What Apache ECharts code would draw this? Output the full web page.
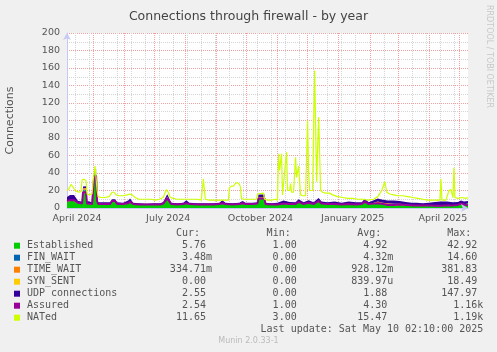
<!DOCTYPE html>
<html>
<head>
<meta charset="utf-8">
<script src="https://cdn.jsdelivr.net/npm/echarts@6/dist/echarts.min.js"></script>
<style>
  html, body { margin: 0; padding: 0; background: #f0f0f0; }
  #chart { width: 497px; height: 352px; }
</style>
</head>
<body>
<div id="chart"></div>
<script>
// days since 5 Apr 2024 (x axis runs 0..400 = 10 May 2025)
const stackDays = [0,3,7,11,15, 16,19,20,25,26, 27,29,30,31,37, 43,45,48,50,56, 61,63,66,72,79,
  86,93,96,100,104, 110,116,119,122,130, 138,146,152,155,158, 165,172,175,178,185, 190,191,197,198,204,
  210,216,222,228,231, 236,241,246,251,254, 260,267,274,281,288, 294,297,301,306,310, 315,320,326,332,338,
  344,349,355,361,367, 373,379,385,390,393, 396,400];

const established = [7,8,8,5,5, 20,20,5,4,6, 38,40,8,4,4, 4,8,8,4,4, 5,7,4,3.5,3.5,
  3.5,3.5,5,12,4, 3.5,4,5,4,3.5, 3.5,3.5,4,5,4, 3.5,4,5,4,4, 4.5,12,12,4,3.5,
  3.5,4.5,4,4,7, 4,6,4,8,5, 4,4,3.5,4,3.5, 4,7,4,5,6, 4,3,3,3.5,3,
  2.5,2.5,2.5,2.5,2, 2,2.5,2.5,3,5, 4,5.5];

const finWait = [0,0,0,0,0, 1,1,0,0,0, 1,1.5,0,0,0, 0,0,0,0,0, 0,0,0,0,0,
  0,0,0,0.3,0, 0,0,0,0,0, 0,0,0,0,0, 0,0,0,0,0, 0,0,0,0,0,
  0,0,0,0,0, 0,0,0,0,0, 0,0,0,0,0, 0,0,0,0,0, 0,0,0,0,0,
  0,0,0,0,0, 0,0,0,0,0, 0,0];

const timeWait = [0.5,1,1,0,0, 1.5,1.5,0,0,0, 0.5,0.5,0,0,0, 0,0,0,0,0, 0.5,1,0,0,0,
  0,0,0,0.5,0, 0,0,0,0,0, 0,0,0,0,0, 0,0,0,0,0, 0,0.5,0.5,0,0,
  0,0,0,0,0, 0,0,0,0.5,0, 0,0.5,0,0.5,0, 0,0.5,0,1,1.5, 2,2.5,2,1.5,1,
  0.5,0,0,0,0, 0,0,0,0,0, 0,0];

const synSent = [0,0,0,0,0, 0,0.5,0,0,0, 0,0,0,0,0, 0,0,0,0,0, 0,0,0,0,0,
  0,0,0,0,0, 0,0,0,0,0, 0,0,0,0,0, 0,0,0,0,0, 0,0,0,0,0,
  0,0,0,0,0, 0,0,0,0,0, 0,0,0,0,0, 0,0,0,0,0, 0,0,0,0,0,
  0,0,0,0,0, 0,0,0,0,0, 0,0];

const udp = [5,6,6,3,2.5, 2,2,3,2.5,2.5, 2,2.5,2.5,2.5,2.5, 2.5,2,2,2.5,2, 3,3,2,2,1.5,
  2,2,2,3,2, 2,2,4,2,2, 2,2,2,4,2, 2,2,3,2,2, 2,3,3,2,2,
  2.5,4,3,2.5,3, 2.5,3,2.5,3,2.5, 2.5,3,2.5,3,3, 2.5,3,2.5,3,3.5, 3.5,3,3.5,3,3,
  3,3.5,3,3.5,5, 5.5,5,4,4,3.5, 3.5,2.5];

const assured = [8,9,9,6,5, 18,18,5,4.5,6, 35,37,8,4.5,4.5, 4.5,8,8,4.5,4.5, 5.5,7,4.5,4,4,
  4,4,5,11,4.5, 4,4.5,5.5,4.5,4, 4,4,4.5,5.5,4.5, 4,4.5,5.5,4.5,4.5, 5,11,11,4.5,4,
  4,5,4.5,4.5,7, 4.5,6,4.5,8,5, 4.5,4.5,4,4.5,4, 4.5,7,4.5,5,5.5, 4.5,3.5,3.5,4,3.5,
  3,3,3,3,2.5, 2.5,3,3,3.5,5, 4,3];

const natDays = [0,2,4,6,8,10,12,14,15,17,19,20,22,25,26,28,29,30,31,34,38,42,45,47,49,52,56,60,63,65,
  68,72,76,80,84,88,92,96,99,101,103,106,110,115,120,125,130,134,136,137,138,142,146,150,154,158,161,162,164,166,
  168,170,172,173,174,176,180,185,189,190,191,196,197,198,200,204,208,210,211,212,214,215,216,219,220,222,223,224,226,228,
  229,231,232,233,235,238,240,241,242,245,247,249,251,252,253,255,258,262,265,270,275,280,285,290,295,300,306,310,314,317,
  319,322,326,330,335,340,345,350,355,360,365,372,373,374,378,381,383,385,386,387,390,394,398,400];

const nated = [20,22,27,24,20,19,18,19,32,33,31,16,15,16,30,48,49,20,13,12,12,13,18,18,15,14,14,15,16,15,
  12,10,10,10,10,9,10,12,21,18,12,11,10,10,10,10,10,9,33,33,10,9,9,9,9,9,9,23,25,25,
  28,29,27,24,11,10,10,10,10,16,17,17,10,10,9,9,10,9,62,43,62,15,15,64,20,20,28,18,18,58,
  35,48,47,15,14,14,100,41,20,20,157,30,104,104,20,18,17,17,15,13,12,11,11,10,10,9,10,13,20,30,
  18,16,15,14,14,13,12,11,10,9,9,9,33,9,9,20,21,12,46,12,11,12,11,12];

// grid / label positions (days)
const minorGridDays = [8,22,36,50,64,78,92,106,120,134,148,162,176,190,204,218,232,246,260,274,288,302,316,330,344,358,372,386];
const monthDays = [26,57,87,118,149,179,210,240,271,302,330,361,391];
const labelDays = [10,101,193,285,375];
const labelNames = ['April 2024','July 2024','October 2024','January 2025','April 2025'];

// legend
const seriesNames = ['Established','FIN_WAIT','TIME_WAIT','SYN_SENT','UDP connections','Assured','NATed'];
const seriesColors = ['#00cc00','#0066b3','#ff8000','#ffcc00','#330099','#990099','#ccff00'];
const curVals = ['5.76','3.48m','334.71m','0.00','2.55','2.54','11.65'];
const minVals = ['1.00','0.00','0.00','0.00','0.00','1.00','3.00'];
const avgVals = ['4.92','4.32m','928.12m','839.97u','1.88','4.30','15.47'];
const maxVals = ['42.92','14.60','381.83','18.49','147.97','1.16k','1.19k'];

// series sit on a time axis (so stacking goes on y); grid lines + labels on day-valued axes
const T0 = Date.UTC(2024, 3, 5);
const DAY = 86400000;
const t = d => T0 + d * DAY;
const pair = (xs, ys) => xs.map((x, i) => [t(x), ys[i]]);

const stackData = [established, finWait, timeWait, synSent, udp];
const series = stackData.map((vals, i) => ({
  name: seriesNames[i],
  type: 'line',
  stack: 'conn',
  data: pair(stackDays, vals),
  symbol: 'none',
  lineStyle: { width: 0 },
  areaStyle: { color: seriesColors[i], opacity: 1 },
  itemStyle: { color: seriesColors[i] },
  silent: true
}));
series.push({
  name: 'Assured', type: 'line', data: pair(stackDays, assured), symbol: 'none',
  lineStyle: { width: 2, color: seriesColors[5] }, silent: true
});
series.push({
  name: 'NATed', type: 'line', data: pair(natDays, nated), symbol: 'none',
  lineStyle: { width: 1.2, color: seriesColors[6] }, silent: true
});

// legend block drawn as text
const mono = '10px "DejaVu Sans Mono"';
const txtColor = '#555';
const cols = [212, 302.7, 393.3, 483.3];
const graphic = [];
function txt(s, x, y, align, font, color) {
  graphic.push({ type: 'text', x: x, y: y, silent: true,
    style: { text: s, font: font || mono, fill: color || txtColor,
      align: align, verticalAlign: 'middle', textAlign: align, textVerticalAlign: 'middle' } });
}
['Cur:', 'Min:', 'Avg:', 'Max:'].forEach((h, j) => txt(h, cols[j] - 12, 233.3, 'right'));
const rows = [curVals, minVals, avgVals, maxVals];
seriesNames.forEach((n, i) => {
  const y = 245.7 + i * 12;
  graphic.push({ type: 'rect', silent: true, shape: { x: 14, y: y - 3, width: 6, height: 6 },
    style: { fill: seriesColors[i] } });
  txt(n, 27, y, 'left');
  rows.forEach((col, j) => {
    const v = col[i];
    const hasUnit = /[a-z]$/i.test(v);
    txt(v, hasUnit ? cols[j] : cols[j] - 6, y, 'right');
  });
});
txt('Last update: Sat May 10 02:10:00 2025', 483.3, 329.7, 'right');
txt('Munin 2.0.33-1', 248.5, 341, 'center', '8px "DejaVu Sans"', '#bbb');
graphic.push({ type: 'text', x: 489, y: 5, rotation: -Math.PI / 2, silent: true,
  style: { text: 'RRDTOOL / TOBI OETIKER', font: '8px "DejaVu Sans"', fill: '#c8c8c8',
    align: 'left', verticalAlign: 'middle', textAlign: 'left', textVerticalAlign: 'middle' } });

const axisColor = '#c8c8f4';
const chart = echarts.init(document.getElementById('chart'));
chart.setOption({
  animation: false,
  backgroundColor: '#f0f0f0',
  title: {
    text: 'Connections through firewall - by year',
    left: 'center', top: 5,
    textStyle: { fontFamily: 'DejaVu Sans', fontSize: 12.5, fontWeight: 'normal', color: '#444' }
  },
  grid: {
    left: 67, right: 29, top: 33, bottom: 144, outerBoundsMode: 'none',
    show: true, backgroundColor: '#fff', borderWidth: 0
  },
  xAxis: [{
    // data axis
    type: 'time', min: t(0), max: t(400), z: 5,
    axisLine: { show: true, lineStyle: { color: axisColor }, symbol: ['none', 'arrow'], symbolSize: [6, 7] },
    axisTick: { show: false },
    axisLabel: { show: false },
    splitLine: { show: false }
  }, {
    // minor grid (every 2 weeks)
    type: 'value', min: 0, max: 400, position: 'bottom',
    axisLine: { show: false },
    axisTick: { show: false, customValues: minorGridDays },
    axisLabel: { show: false },
    splitLine: { show: true, lineStyle: { color: '#d4d4d4', type: [1, 1] } }
  }, {
    // month grid + quarter labels
    type: 'value', min: 0, max: 400, position: 'bottom',
    axisLine: { show: false },
    axisTick: { show: false, customValues: monthDays },
    axisLabel: {
      customValues: labelDays, margin: 6, color: '#555', fontFamily: 'DejaVu Sans', fontSize: 9.5,
      formatter: v => labelNames[labelDays.indexOf(+v)] || ''
    },
    splitLine: { show: true, lineStyle: { color: '#f2a0a0', type: [1, 1] } }
  }],
  yAxis: {
    type: 'value', min: 0, max: 200, interval: 20,
    name: 'Connections', nameLocation: 'middle', nameGap: 51,
    nameTextStyle: { fontFamily: 'DejaVu Sans', fontSize: 11, color: '#555' },
    axisLine: { show: true, lineStyle: { color: axisColor }, symbol: ['none', 'arrow'], symbolSize: [6, 7] },
    axisTick: { show: false },
    axisLabel: { margin: 7, color: '#555', fontFamily: 'DejaVu Sans', fontSize: 9.5 },
    splitLine: { show: true, lineStyle: { color: '#f2a0a0', type: [1, 1] } },
    minorTick: { show: false, splitNumber: 2 },
    minorSplitLine: { show: true, lineStyle: { color: '#d4d4d4', type: [1, 1] } }
  },
  series: series,
  graphic: graphic
});
</script>
</body>
</html>
